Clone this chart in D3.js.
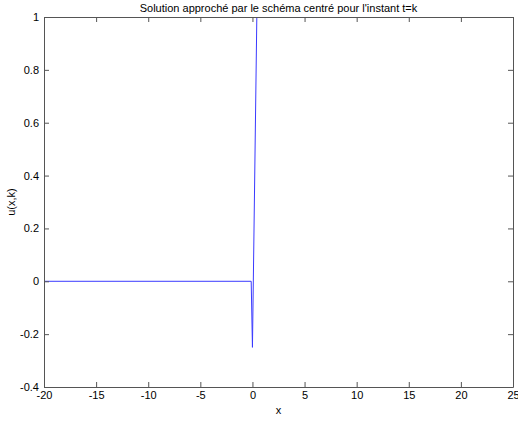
<!DOCTYPE html>
<html><head><meta charset="utf-8">
<script src="https://cdn.jsdelivr.net/npm/d3@7"></script>
<style>body{margin:0;background:#fff}svg{display:block}text{font-family:"Liberation Sans",Arial,sans-serif}</style>
</head><body>
<script>
const xValues = [-20, -0.12, 0.0, 0.42];
const uValues = [0, 0, -0.25, 1.0];
const xTicks = [-20, -15, -10, -5, 0, 5, 10, 15, 20, 25];
const yTicks = [-0.4, -0.2, 0, 0.2, 0.4, 0.6, 0.8, 1];
const title = "Solution approché par le schéma centré pour l'instant t=k";
const xLabel = "x";
const yLabel = "u(x,k)";

const W = 518, H = 421;
const m = {left: 44, right: 5, top: 17, bottom: 34};
const svg = d3.select("body").append("svg").attr("width", W).attr("height", H);
const x = d3.scaleLinear().domain([-20, 25]).range([m.left, W - m.right]);
const y = d3.scaleLinear().domain([-0.4, 1]).range([H - m.bottom, m.top]);
const axisColor = "#555";
const fs = 11;

const clip = svg.append("clipPath").attr("id", "c").append("rect")
  .attr("x", x(-20)).attr("y", y(1)).attr("width", x(25) - x(-20)).attr("height", y(-0.4) - y(1));

svg.append("path").datum(xValues.map((v, i) => [v, uValues[i]]))
  .attr("clip-path", "url(#c)")
  .attr("d", d3.line().x(d => x(d[0])).y(d => y(d[1])))
  .attr("fill", "none").attr("stroke", "#3a3aff").attr("stroke-width", 1);

function styleAxis(g) {
  g.select(".domain").attr("stroke", axisColor);
  g.selectAll(".tick line").attr("stroke", axisColor);
  g.selectAll(".tick text").attr("fill", "#000").attr("font-size", fs);
}
const fmt = d => String(d).replace("-", "-");
svg.append("g").attr("transform", `translate(0,${y(-0.4)})`)
  .call(d3.axisBottom(x).tickValues(xTicks).tickSize(-5).tickPadding(4).tickSizeOuter(0).tickFormat(fmt))
  .call(styleAxis).call(g => g.selectAll(".tick text").attr("dy", "0.71em"));
svg.append("g").attr("transform", `translate(0,${y(1)})`)
  .call(d3.axisTop(x).tickValues(xTicks).tickSize(-5).tickSizeOuter(0).tickFormat(""))
  .call(styleAxis);
svg.append("g").attr("transform", `translate(${x(-20)},0)`)
  .call(d3.axisLeft(y).tickValues(yTicks).tickSize(-5).tickPadding(5).tickSizeOuter(0).tickFormat(fmt))
  .call(styleAxis);
svg.append("g").attr("transform", `translate(${x(25)},0)`)
  .call(d3.axisRight(y).tickValues(yTicks).tickSize(-5).tickSizeOuter(0).tickFormat(""))
  .call(styleAxis);

svg.append("text").attr("x", (x(-20) + x(25)) / 2).attr("y", 12).attr("text-anchor", "middle")
  .attr("font-size", fs).text(title);
svg.append("text").attr("x", (x(-20) + x(25)) / 2).attr("y", 414).attr("text-anchor", "middle")
  .attr("font-size", fs).text(xLabel);
svg.append("text").attr("transform", `translate(15,${(y(-0.4) + y(1)) / 2}) rotate(-90)`)
  .attr("text-anchor", "middle").attr("font-size", fs).text(yLabel);
</script>
</body></html>
